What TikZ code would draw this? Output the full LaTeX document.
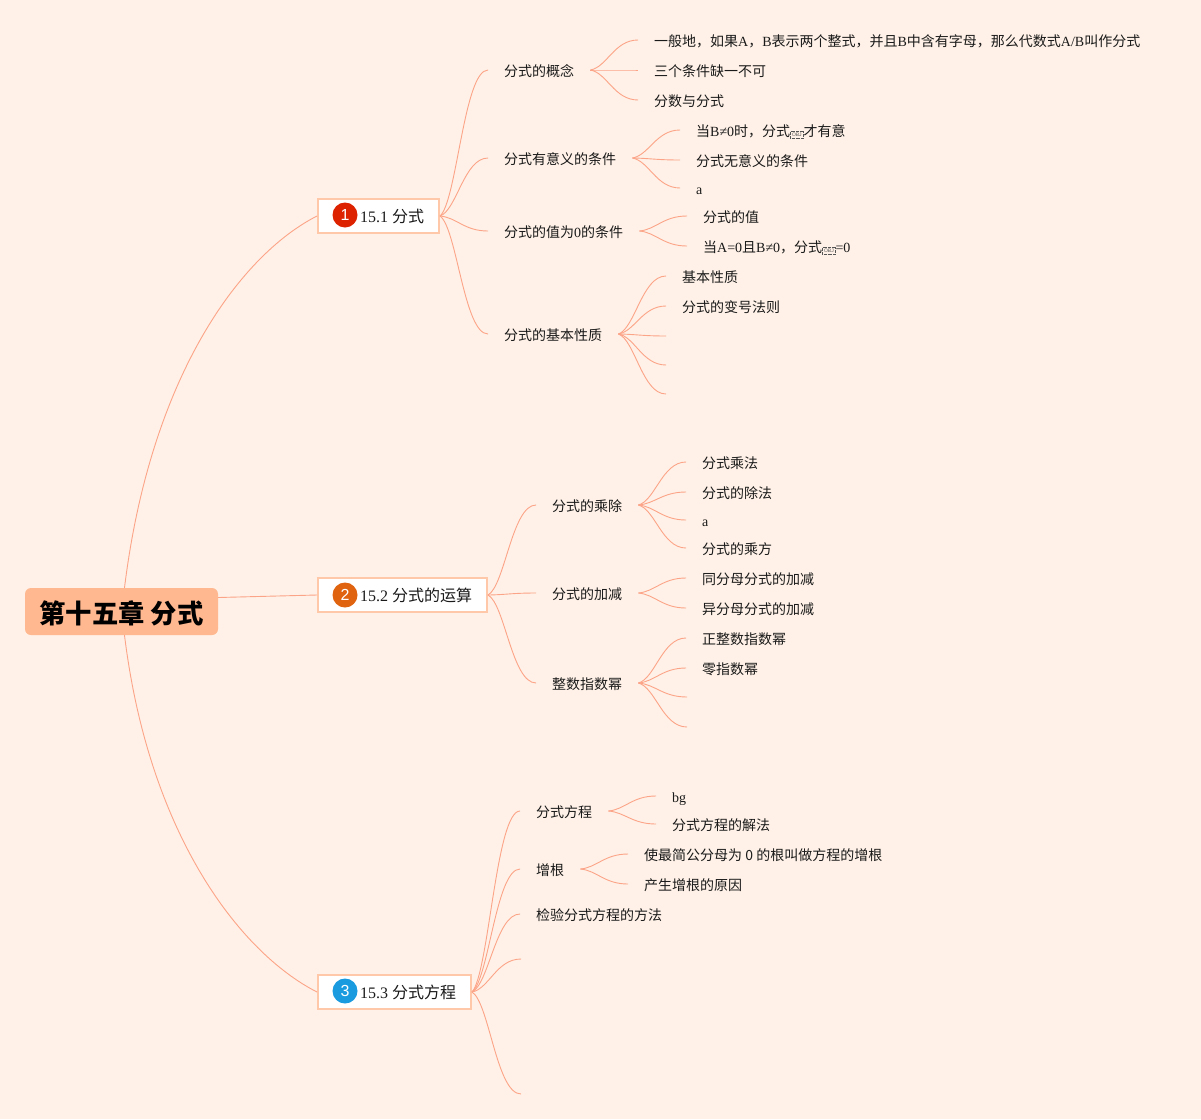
\documentclass[tikz,border=0pt]{standalone}
\usepackage{fontspec}
\usetikzlibrary{calc}
\setmainfont{Liberation Serif}
\setsansfont{Liberation Sans}
\newfontfamily\cjk{Noto Sans CJK SC}
\newcommand{\zh}[1]{{\cjk #1}}
\newcommand{\objmark}{\tikz[baseline=(objbox.base)] \node [objstyle] (objbox) {OBJ};}
\definecolor{pagebg}{HTML}{FFF1E7}
\definecolor{linecol}{HTML}{FCA488}
\definecolor{rootcol}{HTML}{FFB88F}
\definecolor{boxcol}{HTML}{FFC8A8}
\definecolor{textcol}{HTML}{1A1A1A}
\definecolor{objcol}{HTML}{555555}
\definecolor{markred}{HTML}{DD2200}
\definecolor{markorange}{HTML}{E06410}
\definecolor{markblue}{HTML}{1A9BE0}
\tikzset{
	rootnode/.style={fill=rootcol, rounded corners=6pt, minimum width=193pt, minimum height=47pt, inner sep=0pt, text height=25.5pt, text depth=1.5pt, font=\cjk\bfseries\fontsize{26.3}{30}\selectfont},
	topicbox/.style={draw=boxcol, line width=2pt, fill=white, text=textcol, anchor=west, inner xsep=0pt, minimum height=34pt, font=\fontsize{16}{18}\selectfont},
	marker/.style={circle, text=white, minimum size=25pt, inner sep=0pt, font=\sffamily\fontsize{16}{18}\selectfont},
	leaf/.style={anchor=west, text=textcol, inner xsep=16pt, inner ysep=0pt, text height=14pt, text depth=1.4pt, font=\fontsize{14}{16}\selectfont},
	objstyle/.style={draw=objcol, text=objcol, densely dotted, line width=0.3pt, anchor=center, inner sep=0pt, minimum width=13pt, minimum height=7pt, text height=4pt, text depth=0pt, font=\sffamily\fontsize{5}{6}\selectfont},
	branch/.style={to path={let \p1=(\tikztostart), \p2=(\tikztotarget) in .. controls ({\x1+0.35*(\x2-\x1)},{\y1+0.1*(\y2-\y1)}) and ({\x1+0.5*(\x2-\x1)},{\y2}) .. (\tikztotarget)}}
}
\begin{document}
\begin{tikzpicture}[x=1pt, y=-1pt]
		\path[fill=pagebg, use as bounding box] (0,0) rectangle (1201,1119);
		% centre and the three sections
		\node [rootnode] (root) at (121.5,611.5) {第十五章 分式};
		\node [topicbox] (t1) at (317,216) {\hspace*{42pt}15.1 \zh{分式}\hspace*{15pt}};
		\node [topicbox] (t2) at (317,595) {\hspace*{42pt}15.2 \zh{分式的运算}\hspace*{15pt}};
		\node [topicbox] (t3) at (317,992) {\hspace*{42pt}15.3 \zh{分式方程}\hspace*{15pt}};
		\node [marker, fill=markred] (m1) at (345,215) {1};
		\node [marker, fill=markorange] (m2) at (345,595) {2};
		\node [marker, fill=markblue] (m3) at (345,991) {3};
		% 15.1
		\node [leaf] (a1) at (488,70) {\zh{分式的概念}};
		\node [leaf] (a2) at (488,158) {\zh{分式有意义的条件}};
		\node [leaf] (a3) at (488,231) {\zh{分式的值为}0\zh{的条件}};
		\node [leaf] (a4) at (488,334) {\zh{分式的基本性质}};
		\node [leaf] (a11) at (638,40) {\zh{一般地，如果}A\zh{，}B\zh{表示两个整式，并且}B\zh{中含有字母，那么代数式}A/B\zh{叫作分式}};
		\node [leaf] (a12) at (638,70) {\zh{三个条件缺一不可}};
		\node [leaf] (a13) at (638,100) {\zh{分数与分式}};
		\node [leaf] (a21) at (680,130) {\zh{当}B≠0\zh{时，分式}\objmark\zh{才有意}};
		\node [leaf] (a22) at (680,160) {\zh{分式无意义的条件}};
		\node [leaf] (a23) at (680,188) {a};
		\node [leaf] (a31) at (687,216) {\zh{分式的值}};
		\node [leaf] (a32) at (687,246) {\zh{当}A=0\zh{且}B≠0\zh{，分式}\objmark=0};
		\node [leaf] (a41) at (666,276) {\zh{基本性质}};
		\node [leaf] (a42) at (666,306) {\zh{分式的变号法则}};
		\coordinate (a43) at (666,336);
		\coordinate (a44) at (666,365);
		\coordinate (a45) at (666,394);
		% 15.2
		\node [leaf] (b1) at (536,505) {\zh{分式的乘除}};
		\node [leaf] (b2) at (536,593) {\zh{分式的加减}};
		\node [leaf] (b3) at (536,683) {\zh{整数指数幂}};
		\node [leaf] (b11) at (686,462) {\zh{分式乘法}};
		\node [leaf] (b12) at (686,492) {\zh{分式的除法}};
		\node [leaf] (b13) at (686,520) {a};
		\node [leaf] (b14) at (686,548) {\zh{分式的乘方}};
		\node [leaf] (b21) at (686,578) {\zh{同分母分式的加减}};
		\node [leaf] (b22) at (686,608) {\zh{异分母分式的加减}};
		\node [leaf] (b31) at (686,638) {\zh{正整数指数幂}};
		\node [leaf] (b32) at (686,668) {\zh{零指数幂}};
		\coordinate (b33) at (687,697);
		\coordinate (b34) at (687,727);
		% 15.3
		\node [leaf] (c1) at (520,811) {\zh{分式方程}};
		\node [leaf] (c2) at (520,869) {\zh{增根}};
		\node [leaf] (c3) at (520,914) {\zh{检验分式方程的方法}};
		\coordinate (c4) at (521,959);
		\coordinate (c5) at (521,1094);
		\node [leaf] (c11) at (656,796) {bg};
		\node [leaf] (c12) at (656,824) {\zh{分式方程的解法}};
		\node [leaf] (c21) at (628,854) {\zh{使最简公分母为 0 的根叫做方程的增根}};
		\node [leaf] (c22) at (628,884) {\zh{产生增根的原因}};
		\draw[linecol, line width=0.9pt] ([xshift=3pt]root.north) to[out=83, in=207, out distance=212pt, in distance=87pt] (t1.west);
		\draw[linecol, line width=0.9pt] ([xshift=3pt]root.south) to[out=-83, in=153, out distance=200pt, in distance=87pt] (t3.west);
		\draw[linecol, line width=0.9pt] ([yshift=14pt]root.east) -- (t2.west);
		\path[draw=linecol, line width=0.9pt, branch]
					(t1.east) edge (a1.west)
					(t1.east) edge (a2.west)
					(t1.east) edge (a3.west)
					(t1.east) edge (a4.west)
					(a1.east) edge (a11.west)
					(a1.east) edge (a12.west)
					(a1.east) edge (a13.west)
					(a2.east) edge (a21.west)
					(a2.east) edge (a22.west)
					(a2.east) edge (a23.west)
					(a3.east) edge (a31.west)
					(a3.east) edge (a32.west)
					(a4.east) edge (a41.west)
					(a4.east) edge (a42.west)
					(a4.east) edge (a43)
					(a4.east) edge (a44)
					(a4.east) edge (a45)
					(t2.east) edge (b1.west)
					(t2.east) edge (b2.west)
					(t2.east) edge (b3.west)
					(b1.east) edge (b11.west)
					(b1.east) edge (b12.west)
					(b1.east) edge (b13.west)
					(b1.east) edge (b14.west)
					(b2.east) edge (b21.west)
					(b2.east) edge (b22.west)
					(b3.east) edge (b31.west)
					(b3.east) edge (b32.west)
					(b3.east) edge (b33)
					(b3.east) edge (b34)
					(t3.east) edge (c1.west)
					(t3.east) edge (c2.west)
					(t3.east) edge (c3.west)
					(t3.east) edge (c4)
					(t3.east) edge (c5)
					(c1.east) edge (c11.west)
					(c1.east) edge (c12.west)
					(c2.east) edge (c21.west)
					(c2.east) edge (c22.west);
	\end{tikzpicture}
\end{document}
